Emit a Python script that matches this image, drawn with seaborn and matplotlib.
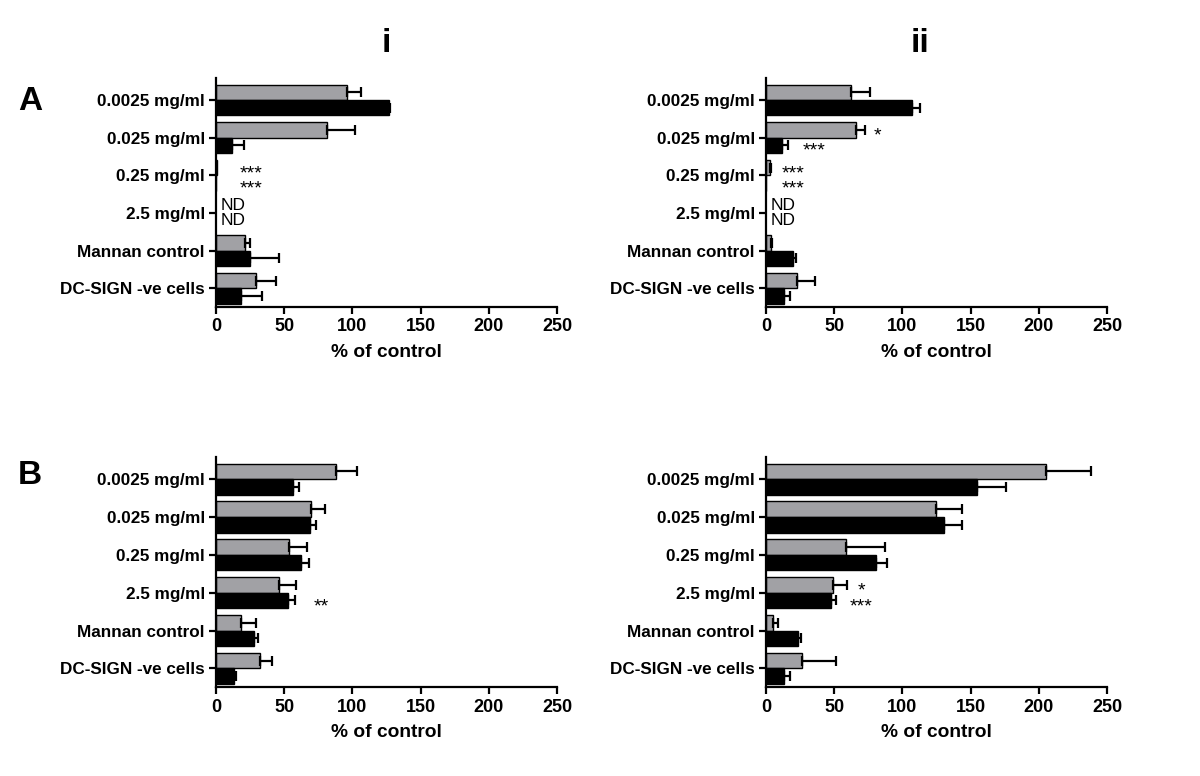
import numpy as np
import pandas as pd
import matplotlib
matplotlib.use("Agg")
import matplotlib.pyplot as plt
import seaborn as sns

# ------------------------------
# data (% of control)
# ------------------------------
nan = np.nan
categories = ['0.0025 mg/ml', '0.025 mg/ml', '0.25 mg/ml', '2.5 mg/ml',
              'Mannan control', 'DC-SIGN -ve cells']
series = ['grey', 'black']

# panel A i
ai_grey = [96, 81.5, 0.5, nan, 21.5, 29]
ai_grey_err = [10, 20.5, nan, nan, 3.5, 15]
ai_black = [127, 12, 0, nan, 25, 18]
ai_black_err = [0.8, 8.5, nan, nan, 21, 16]

# panel A ii
aii_grey = [62, 66, 3, nan, 3.5, 23]
aii_grey_err = [14, 6.5, 1, nan, 1, 13]
aii_black = [107, 12, 0, nan, 20, 13]
aii_black_err = [6, 4.5, nan, nan, 2, 4.5]

# panel B i
bi_grey = [88, 69.5, 53.5, 46.5, 18, 32]
bi_grey_err = [15, 10.5, 13.5, 12, 11.5, 9]
bi_black = [56.5, 69, 62, 53, 27.5, 13.5]
bi_black_err = [4.5, 4, 6, 5, 3, 1.5]

# panel B ii
bii_grey = [205, 125, 59, 49.5, 5.5, 26.5]
bii_grey_err = [33, 19, 28, 10, 3, 24.5]
bii_black = [154.5, 130.5, 81, 48, 23.5, 13]
bii_black_err = [21.5, 13.5, 7.5, 3, 2.5, 4.5]

# significance / ND labels: (category index, series index, x value, text)
ai_notes = [(2, 0, 25.5, '***'), (2, 1, 25.5, '***'), (3, 0, 12.5, 'ND'), (3, 1, 12.5, 'ND')]
aii_notes = [(1, 0, 82, '*'), (1, 1, 35, '***'), (2, 0, 20, '***'), (2, 1, 20, '***'),
             (3, 0, 12.5, 'ND'), (3, 1, 12.5, 'ND')]
bi_notes = [(3, 1, 77, '**')]
bii_notes = [(3, 0, 70, '*'), (3, 1, 70, '***')]

colors = ['#a1a1a5', '#000000']

sns.set_style('ticks')
plt.rcParams['font.family'] = ['Liberation Sans', 'DejaVu Sans']
for key in ['text.color', 'axes.labelcolor', 'xtick.color', 'ytick.color', 'axes.edgecolor']:
    plt.rcParams[key] = 'black'


def draw_panel(ax, grey, grey_err, black, black_err, notes):
    df = pd.DataFrame({
        'condition': categories * 2,
        'series': [series[0]] * len(categories) + [series[1]] * len(categories),
        'value': grey + black,
    })
    sns.barplot(data=df, x='value', y='condition', hue='series', order=categories,
                hue_order=series, palette=colors, saturation=1, width=0.82,
                edgecolor='black', linewidth=1, errorbar=None, legend=False, ax=ax)

    # one-sided error bars at the end of each bar (bars matched to category by position)
    for cont, errs in zip(ax.containers, [grey_err, black_err]):
        for bar in cont:
            w = bar.get_width()
            yc = bar.get_y() + bar.get_height() / 2
            e = errs[int(round(yc))]
            if np.isnan(e) or np.isnan(w):
                continue
            ax.errorbar(w, yc, xerr=[[0], [e]], fmt='none', ecolor='black',
                        elinewidth=1.6, capsize=3.6, capthick=1.6, zorder=1)

    offsets = [-0.205, 0.205]
    for ci, si, xv, txt in notes:
        yv = ci + offsets[si]
        if 'ND' in txt:
            ax.text(xv, yv, txt, ha='center', va='center', fontsize=12.5)
        else:
            ax.text(xv, yv + 0.16, txt, ha='center', va='center', fontsize=14)

    ax.set_xlim(0, 250)
    ax.set_ylim(5.49, -0.585)
    ax.set_xticks([0, 50, 100, 150, 200, 250])
    ax.set_xlabel('% of control', fontsize=13.8, fontweight='bold', labelpad=6)
    ax.set_ylabel('')
    sns.despine(ax=ax)
    for sp in ['left', 'bottom']:
        ax.spines[sp].set_linewidth(1.6)
    ax.tick_params(axis='both', width=1.6, length=5)
    ax.tick_params(axis='x', labelsize=13)
    ax.tick_params(axis='y', labelsize=12.3, pad=3)
    for lab in ax.get_xticklabels() + ax.get_yticklabels():
        lab.set_fontweight('bold')


fig = plt.figure(figsize=(12, 7.76), dpi=100)
w = 0.2842
ax_ai = fig.add_axes([0.18, 0.6048, w, 0.2947])
ax_aii = fig.add_axes([0.6383, 0.6048, w, 0.2947])
ax_bi = fig.add_axes([0.18, 0.1147, w, 0.2964])
ax_bii = fig.add_axes([0.6383, 0.1147, w, 0.2964])

draw_panel(ax_ai, ai_grey, ai_grey_err, ai_black, ai_black_err, ai_notes)
draw_panel(ax_aii, aii_grey, aii_grey_err, aii_black, aii_black_err, aii_notes)
draw_panel(ax_bi, bi_grey, bi_grey_err, bi_black, bi_black_err, bi_notes)
draw_panel(ax_bii, bii_grey, bii_grey_err, bii_black, bii_black_err, bii_notes)

fig.text(386 / 1200, 1 - 44 / 776, 'i', ha='center', va='center', fontsize=24, fontweight='bold')
fig.text(920 / 1200, 1 - 44 / 776, 'ii', ha='center', va='center', fontsize=24, fontweight='bold')
fig.text(30 / 1200, 1 - 101 / 776, 'A', ha='center', va='center', fontsize=24, fontweight='bold')
fig.text(30 / 1200, 1 - 475 / 776, 'B', ha='center', va='center', fontsize=24, fontweight='bold')

plt.savefig('out.png', dpi=100)
